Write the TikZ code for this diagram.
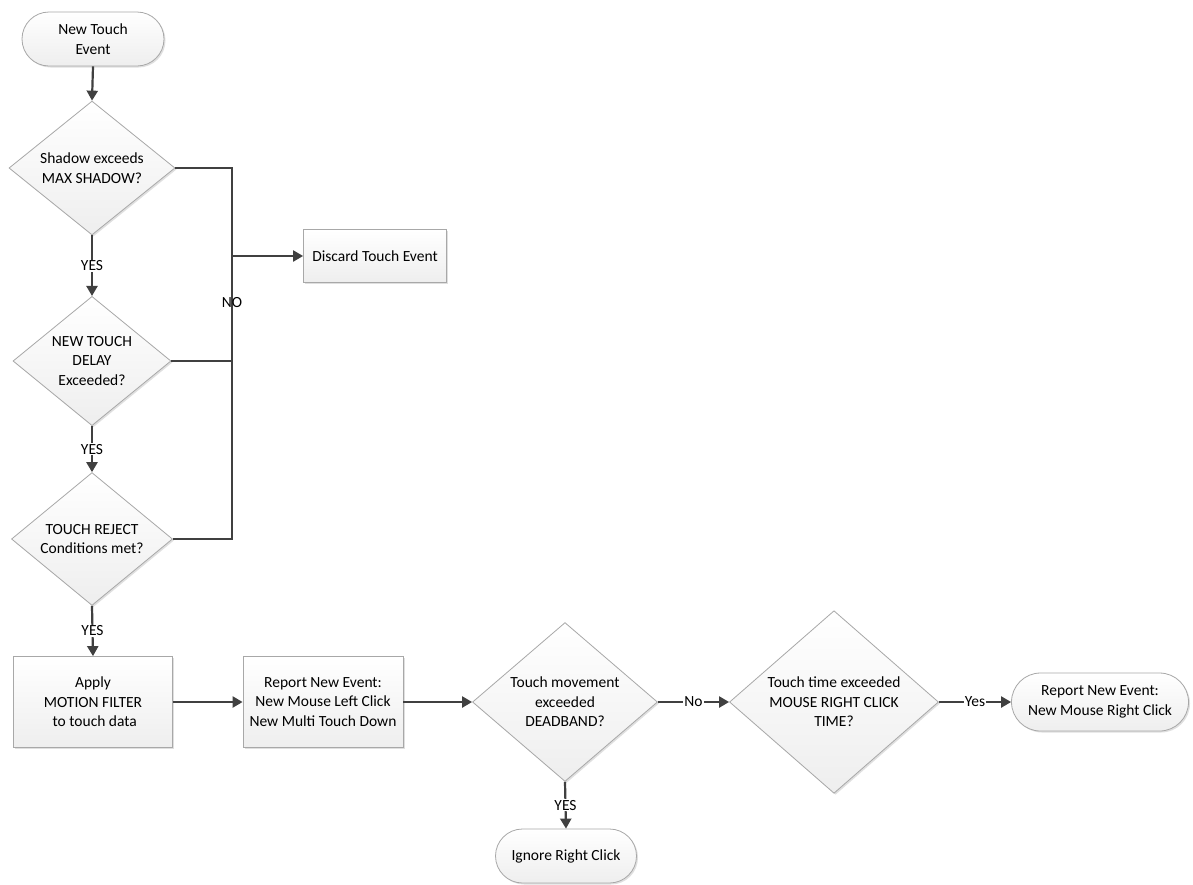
\documentclass[tikz,border=0pt]{standalone}
\usepackage{fontspec}
\setmainfont{Carlito}
\usetikzlibrary{shapes.geometric,shapes.misc,arrows.meta,shadows}
\definecolor{linec}{HTML}{404040}
\definecolor{bordc}{HTML}{A8A8A8}
\definecolor{fillc}{HTML}{EEEEEE}
\begin{document}
\begin{tikzpicture}[x=1pt,y=-1pt,
  every node/.style={font=\fontsize{15.5}{19.5}\selectfont, text=black},
  boxbase/.style={draw=bordc, line width=0.8pt, top color=white, bottom color=fillc,
     drop shadow={shadow xshift=1.5pt, shadow yshift=-1.5pt, opacity=0.25, fill=gray},
     align=center, inner sep=0pt},
  term/.style={boxbase, rounded rectangle},
  proc/.style={boxbase, rectangle},
  dec/.style={boxbase, diamond},
  conn/.style={draw=linec, line width=2.2pt},
  arr/.style={conn, -{Triangle[length=10pt,width=11pt]}},
  lbl/.style={fill=white, inner sep=1pt}]
\useasboundingbox[fill=white] (0,0) rectangle (1193,884);

\node[term, minimum width=142pt, minimum height=54pt] (start) at (93,39) {New Touch\\Event};
\node[dec, minimum width=166pt, minimum height=125pt] (d1) at (92,168) {Shadow exceeds\\MAX SHADOW?};
\node[dec, minimum width=158pt, minimum height=118pt] (d2) at (92,361) {NEW TOUCH\\DELAY\\Exceeded?};
\node[dec, minimum width=161pt, minimum height=119pt] (d3) at (92,539) {TOUCH REJECT\\Conditions met?};
\node[proc, minimum width=143pt, minimum height=53pt] (discard) at (375,256) {Discard Touch Event};
\node[proc, minimum width=159pt, minimum height=91pt] (motion) at (93,702) {Apply\\MOTION FILTER\\\ to touch data};
\node[proc, minimum width=160pt, minimum height=91pt] (report) at (323,702) {Report New Event:\\New Mouse Left Click\\New Multi Touch Down};
\node[dec, minimum width=185pt, minimum height=140pt] (dead) at (565,702) {Touch movement\\exceeded\\DEADBAND?};
\node[dec, minimum width=209pt, minimum height=160pt] (rtime) at (834,702) {Touch time exceeded\\MOUSE RIGHT CLICK\\TIME?};
\node[term, minimum width=177pt, minimum height=58pt] (rclick) at (1100,702) {Report New Event:\\New Mouse Right Click};
\node[term, minimum width=141pt, minimum height=54pt] (ignore) at (566,856) {Ignore Right Click};

\coordinate (bus) at (232,0);

\draw[arr] (start.south) -- (d1.north);
\draw[arr] (d1.south) -- node[lbl]{YES} (d2.north);
\draw[arr] (d2.south) -- node[lbl]{YES} (d3.north);
\draw[arr] (d3.south) -- node[lbl]{YES} (motion.north);

\draw[conn] (d1.east) -- (d1.east -| bus) -- (d3.east -| bus) -- (d3.east);
\draw[conn] (d2.east) -- (d2.east -| bus);
\draw[arr] (discard.west -| bus) -- (discard.west);
\node[lbl, fill=none] (no) at (232,303) {NO};

\draw[arr] (motion.east) -- (report.west);
\draw[arr] (report.east) -- (dead.west);
\draw[arr] (dead.east) -- node[lbl]{No} (rtime.west);
\draw[arr] (rtime.east) -- node[lbl]{Yes} (rclick.west);
\draw[arr] (dead.south) -- node[lbl]{YES} (ignore.north);
\end{tikzpicture}
\end{document}
